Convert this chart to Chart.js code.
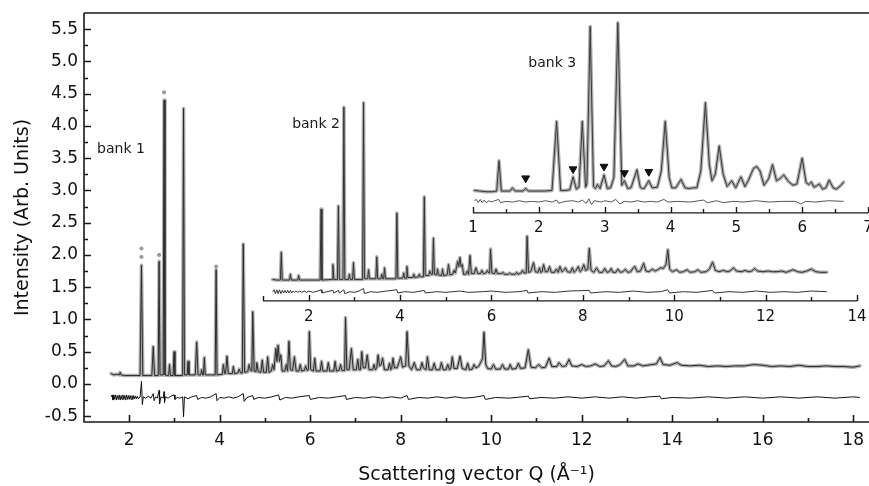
<!DOCTYPE html>
<html>
<head>
<meta charset="utf-8">
<title>Scattering vector Q - banks 1 to 3</title>
<script src="https://cdn.jsdelivr.net/npm/chart.js@4.4.1/dist/chart.umd.min.js"></script>
<style>
    html, body { margin: 0; padding: 0; background: #ffffff; }
    #qChart { display: block; }
</style>
</head>
<body>
<canvas id="qChart" width="869" height="486"></canvas>
<script>
// tick labels
const mainXTicks = [2, 4, 6, 8, 10, 12, 14, 16, 18];
const mainXMinor = [3, 5, 7, 9, 11, 13, 15, 17];
const mainYTicks = [-0.5, 0, 0.5, 1, 1.5, 2, 2.5, 3, 3.5, 4, 4.5, 5, 5.5];
const mainYMinor = [-0.25, 0.25, 0.75, 1.25, 1.75, 2.25, 2.75, 3.25, 3.75, 4.25, 4.75, 5.25];
const bank2Ticks = [2, 4, 6, 8, 10, 12, 14];
const bank2Minor = [1, 3, 5, 7, 9, 11, 13];
const bank3Ticks = [1, 2, 3, 4, 5, 6, 7];
const bank3Minor = [1.5, 2.5, 3.5, 4.5, 5.5, 6.5];

// bank 1: [Q, intensity]
const bank1 = [
    [1.60,0.16],[1.66,0.14],[1.72,0.15],[1.78,0.14],[1.80,0.18],[1.82,0.14],[1.90,0.13],[2.00,0.13],[2.10,0.13],
    [2.24,0.13],[2.27,1.84],[2.30,0.13],[2.40,0.13],[2.50,0.13],[2.53,0.58],[2.56,0.13],[2.64,0.13],[2.66,1.90],
    [2.68,0.14],[2.75,0.14],[2.77,4.40],[2.79,0.14],[2.87,0.13],[2.89,0.30],[2.91,0.13],[2.97,0.13],[2.99,0.50],
    [3.01,0.13],[3.10,0.13],[3.18,0.13],[3.20,4.27],[3.22,0.14],[3.28,0.14],[3.30,0.35],[3.32,0.14],[3.46,0.14],
    [3.49,0.65],[3.52,0.14],[3.58,0.14],[3.60,0.22],[3.62,0.14],[3.64,0.14],[3.66,0.41],[3.68,0.14],[3.80,0.14],
    [3.90,0.14],[3.92,1.77],[3.94,0.14],[4.06,0.15],[4.08,0.30],[4.11,0.16],[4.13,0.16],[4.16,0.43],[4.19,0.16],
    [4.28,0.16],[4.30,0.27],[4.33,0.16],[4.40,0.17],[4.43,0.23],[4.46,0.17],[4.50,0.17],[4.52,2.17],[4.55,0.18],
    [4.62,0.19],[4.65,0.30],[4.68,0.21],[4.71,0.20],[4.73,1.12],[4.76,0.20],[4.80,0.19],[4.82,0.33],[4.85,0.19],
    [4.91,0.18],[4.94,0.37],[4.97,0.18],[5.03,0.18],[5.06,0.42],[5.09,0.18],[5.14,0.20],[5.17,0.30],[5.20,0.22],
    [5.24,0.55],[5.265,0.35],[5.29,0.60],[5.32,0.35],[5.35,0.45],[5.38,0.20],[5.44,0.20],[5.47,0.30],[5.50,0.20],
    [5.53,0.66],[5.56,0.22],[5.61,0.21],[5.65,0.42],[5.69,0.20],[5.75,0.20],[5.78,0.30],[5.81,0.20],[5.87,0.21],
    [5.90,0.28],[5.93,0.21],[5.96,0.22],[5.98,0.81],[6.01,0.22],[6.07,0.20],[6.10,0.40],[6.13,0.20],[6.22,0.20],
    [6.25,0.35],[6.28,0.20],[6.37,0.20],[6.40,0.33],[6.43,0.20],[6.52,0.20],[6.55,0.35],[6.58,0.20],[6.64,0.21],
    [6.67,0.30],[6.70,0.21],[6.76,0.21],[6.78,1.03],[6.81,0.22],[6.86,0.22],[6.91,0.55],[6.95,0.22],[7.02,0.22],
    [7.05,0.38],[7.08,0.22],[7.11,0.22],[7.14,0.50],[7.17,0.25],[7.22,0.25],[7.26,0.45],[7.30,0.22],[7.38,0.22],
    [7.41,0.30],[7.44,0.22],[7.47,0.25],[7.50,0.45],[7.53,0.28],[7.57,0.30],[7.60,0.40],[7.64,0.22],[7.72,0.22],
    [7.75,0.32],[7.78,0.22],[7.80,0.24],[7.83,0.40],[7.86,0.25],[7.92,0.25],[7.97,0.35],[8.00,0.42],[8.04,0.26],
    [8.11,0.28],[8.14,0.81],[8.18,0.28],[8.24,0.22],[8.30,0.33],[8.35,0.22],[8.43,0.22],[8.47,0.33],[8.50,0.25],
    [8.56,0.22],[8.59,0.42],[8.63,0.22],[8.70,0.22],[8.74,0.32],[8.78,0.22],[8.86,0.22],[8.90,0.33],[8.94,0.22],
    [9.00,0.22],[9.04,0.30],[9.08,0.22],[9.11,0.25],[9.14,0.42],[9.18,0.24],[9.25,0.24],[9.31,0.43],[9.36,0.24],
    [9.44,0.22],[9.48,0.32],[9.52,0.22],[9.58,0.23],[9.62,0.30],[9.66,0.25],[9.72,0.27],[9.78,0.35],[9.81,0.40],
    [9.84,0.80],[9.88,0.30],[9.92,0.24],[10.00,0.23],[10.05,0.30],[10.10,0.23],[10.20,0.23],[10.25,0.30],[10.30,0.23],
    [10.38,0.23],[10.42,0.30],[10.46,0.23],[10.55,0.24],[10.60,0.32],[10.65,0.24],[10.75,0.25],[10.82,0.53],[10.88,0.26],
    [10.98,0.25],[11.05,0.30],[11.12,0.25],[11.20,0.26],[11.28,0.40],[11.34,0.27],[11.45,0.27],[11.50,0.33],[11.57,0.27],
    [11.65,0.28],[11.72,0.38],[11.78,0.28],[11.90,0.27],[12.00,0.30],[12.10,0.27],[12.20,0.28],[12.30,0.31],[12.40,0.27],
    [12.50,0.28],[12.59,0.36],[12.66,0.28],[12.75,0.27],[12.85,0.30],[12.95,0.38],[13.02,0.28],[13.15,0.28],[13.25,0.31],
    [13.35,0.28],[13.45,0.29],[13.55,0.30],[13.65,0.31],[13.73,0.41],[13.80,0.30],[13.95,0.29],[14.11,0.33],[14.20,0.29],
    [14.40,0.28],[14.60,0.29],[14.80,0.27],[15.00,0.28],[15.20,0.27],[15.40,0.28],[15.60,0.28],[15.80,0.30],[16.00,0.29],
    [16.20,0.27],[16.40,0.28],[16.60,0.27],[16.80,0.29],[17.00,0.27],[17.20,0.27],[17.40,0.28],[17.60,0.27],[17.80,0.27],
    [18.00,0.26],[18.15,0.28]
];

// observed points left above the strongest bank 1 peaks
const bank1ObsTips = [[2.27,2.10],[2.27,1.97],[2.66,2.00],[2.77,4.52],[3.92,1.82]];

const bank1Diff = [
    [1.60,-0.20],[1.62,-0.17],[1.64,-0.25],[1.66,-0.17],[1.68,-0.24],[1.70,-0.17],[1.72,-0.25],[1.74,-0.18],[1.76,-0.24],
    [1.78,-0.17],[1.80,-0.25],[1.82,-0.18],[1.84,-0.24],[1.86,-0.17],[1.88,-0.24],[1.90,-0.18],[1.92,-0.25],[1.94,-0.17],
    [1.96,-0.24],[1.98,-0.18],[2.00,-0.24],[2.02,-0.18],[2.04,-0.24],[2.06,-0.18],[2.08,-0.24],[2.10,-0.18],[2.12,-0.23],
    [2.14,-0.19],[2.16,-0.23],[2.18,-0.19],[2.20,-0.23],[2.24,-0.20],[2.27,0.04],[2.29,-0.32],[2.31,-0.20],[2.36,-0.22],
    [2.42,-0.19],[2.48,-0.22],[2.53,-0.15],[2.55,-0.26],[2.58,-0.20],[2.62,-0.22],[2.66,-0.10],[2.67,-0.31],[2.70,-0.20],
    [2.75,-0.22],[2.77,-0.12],[2.78,-0.29],[2.80,-0.20],[2.86,-0.22],[2.92,-0.19],[2.99,-0.17],[3.01,-0.24],[3.06,-0.21],
    [3.12,-0.22],[3.18,-0.20],[3.20,-0.51],[3.22,-0.20],[3.30,-0.23],[3.38,-0.20],[3.49,-0.18],[3.51,-0.24],[3.60,-0.21],
    [3.70,-0.22],[3.80,-0.20],[3.92,-0.15],[3.94,-0.26],[4.00,-0.21],[4.10,-0.22],[4.20,-0.20],[4.30,-0.22],[4.40,-0.20],
    [4.52,-0.15],[4.54,-0.27],[4.60,-0.21],[4.73,-0.18],[4.75,-0.24],[4.85,-0.21],[5.00,-0.22],[5.15,-0.20],[5.30,-0.17],
    [5.33,-0.25],[5.45,-0.21],[5.60,-0.22],[5.75,-0.20],[5.98,-0.18],[6.00,-0.24],[6.20,-0.21],[6.40,-0.22],[6.60,-0.20],
    [6.78,-0.18],[6.80,-0.24],[7.00,-0.21],[7.20,-0.22],[7.40,-0.20],[7.60,-0.22],[7.80,-0.20],[8.00,-0.22],[8.14,-0.18],
    [8.17,-0.24],[8.40,-0.21],[8.60,-0.22],[8.80,-0.20],[9.00,-0.22],[9.20,-0.20],[9.40,-0.22],[9.60,-0.21],[9.84,-0.18],
    [9.87,-0.24],[10.10,-0.21],[10.40,-0.22],[10.82,-0.19],[10.85,-0.23],[11.10,-0.21],[11.40,-0.22],[11.70,-0.20],
    [12.00,-0.22],[12.30,-0.20],[12.60,-0.22],[12.90,-0.20],[13.20,-0.22],[13.50,-0.20],[13.73,-0.19],[13.76,-0.23],
    [14.00,-0.21],[14.40,-0.22],[14.80,-0.20],[15.20,-0.22],[15.60,-0.20],[16.00,-0.22],[16.40,-0.20],[16.80,-0.22],
    [17.20,-0.20],[17.60,-0.22],[18.00,-0.20],[18.15,-0.21]
];

// bank 2 (own Q axis, offset on the intensity scale)
const bank2 = [
    [1.21,1.62],[1.30,1.61],[1.38,1.61],[1.40,2.04],[1.42,1.61],[1.58,1.61],[1.60,1.70],[1.62,1.61],[1.76,1.61],
    [1.78,1.68],[1.80,1.61],[2.00,1.61],[2.25,1.61],[2.27,2.71],[2.29,1.61],[2.51,1.62],[2.53,1.85],[2.55,1.62],
    [2.63,1.62],[2.65,2.76],[2.67,1.62],[2.75,1.62],[2.77,4.29],[2.79,1.62],[2.87,1.62],[2.89,1.70],[2.91,1.62],
    [2.96,1.62],[2.98,1.88],[3.00,1.62],[3.18,1.62],[3.20,4.36],[3.22,1.63],[3.29,1.63],[3.31,1.77],[3.33,1.63],
    [3.47,1.63],[3.49,1.97],[3.51,1.63],[3.58,1.63],[3.60,1.70],[3.62,1.63],[3.64,1.63],[3.66,1.80],[3.68,1.63],
    [3.91,1.63],[3.93,2.65],[3.95,1.64],[4.06,1.64],[4.08,1.72],[4.10,1.64],[4.13,1.64],[4.15,1.82],[4.17,1.65],
    [4.28,1.65],[4.30,1.70],[4.32,1.65],[4.40,1.66],[4.42,1.70],[4.44,1.66],[4.51,1.66],[4.53,2.90],[4.55,1.68],
    [4.63,1.68],[4.65,1.75],[4.68,1.70],[4.71,1.70],[4.73,2.26],[4.75,1.70],[4.80,1.69],[4.82,1.78],[4.84,1.69],
    [4.91,1.68],[4.93,1.78],[4.95,1.68],[5.03,1.69],[5.06,1.85],[5.09,1.69],[5.15,1.70],[5.18,1.76],[5.21,1.72],
    [5.26,1.90],[5.285,1.82],[5.31,1.96],[5.335,1.82],[5.36,1.85],[5.39,1.70],[5.44,1.70],[5.47,1.75],[5.50,1.70],
    [5.53,1.99],[5.56,1.71],[5.62,1.71],[5.66,1.80],[5.70,1.71],[5.76,1.71],[5.79,1.76],[5.82,1.71],[5.88,1.72],
    [5.91,1.76],[5.94,1.72],[5.96,1.72],[5.98,2.09],[6.01,1.72],[6.07,1.71],[6.10,1.78],[6.13,1.71],[6.22,1.71],
    [6.25,1.73],[6.28,1.70],[6.37,1.70],[6.40,1.72],[6.43,1.70],[6.52,1.70],[6.55,1.73],[6.58,1.70],[6.65,1.72],
    [6.68,1.76],[6.71,1.72],[6.76,1.72],[6.78,2.29],[6.81,1.73],[6.86,1.74],[6.92,1.88],[6.96,1.74],[7.02,1.73],
    [7.05,1.80],[7.08,1.73],[7.11,1.74],[7.14,1.85],[7.18,1.74],[7.23,1.74],[7.27,1.82],[7.31,1.73],[7.38,1.73],
    [7.42,1.78],[7.46,1.73],[7.50,1.82],[7.54,1.74],[7.58,1.76],[7.62,1.80],[7.66,1.74],[7.73,1.73],[7.77,1.80],
    [7.81,1.73],[7.85,1.76],[7.90,1.82],[7.94,1.74],[7.98,1.77],[8.02,1.85],[8.06,1.76],[8.11,1.78],[8.14,2.10],
    [8.18,1.76],[8.24,1.73],[8.30,1.80],[8.36,1.73],[8.43,1.73],[8.48,1.79],[8.53,1.73],[8.58,1.74],[8.62,1.79],
    [8.66,1.73],[8.72,1.73],[8.77,1.78],[8.82,1.73],[8.88,1.74],[8.93,1.78],[8.98,1.73],[9.05,1.74],[9.10,1.80],
    [9.14,1.82],[9.19,1.74],[9.26,1.75],[9.33,1.87],[9.38,1.75],[9.45,1.74],[9.52,1.78],[9.58,1.75],[9.64,1.77],
    [9.70,1.80],[9.76,1.79],[9.82,1.85],[9.86,2.08],[9.90,1.78],[9.96,1.74],[10.05,1.77],[10.12,1.73],[10.20,1.74],
    [10.28,1.77],[10.35,1.73],[10.45,1.74],[10.52,1.77],[10.58,1.73],[10.70,1.74],[10.77,1.78],[10.84,1.89],[10.90,1.76],
    [10.98,1.74],[11.08,1.76],[11.15,1.74],[11.22,1.75],[11.30,1.80],[11.36,1.75],[11.48,1.74],[11.55,1.76],[11.62,1.74],
    [11.70,1.75],[11.76,1.79],[11.82,1.75],[11.95,1.74],[12.05,1.75],[12.15,1.74],[12.25,1.74],[12.35,1.75],[12.45,1.73],
    [12.60,1.77],[12.70,1.74],[12.80,1.73],[12.90,1.75],[13.00,1.78],[13.10,1.74],[13.20,1.73],[13.34,1.73]
];

const bank2Diff = [
    [1.21,1.43],[1.24,1.46],[1.27,1.40],[1.30,1.46],[1.33,1.40],[1.36,1.46],[1.39,1.40],[1.42,1.45],[1.45,1.41],
    [1.48,1.45],[1.51,1.41],[1.54,1.45],[1.57,1.41],[1.60,1.45],[1.63,1.41],[1.66,1.44],[1.69,1.42],[1.72,1.44],
    [1.76,1.42],[1.80,1.44],[1.85,1.42],[1.90,1.44],[1.95,1.42],[2.00,1.44],[2.10,1.42],[2.20,1.44],[2.27,1.46],
    [2.29,1.41],[2.40,1.43],[2.53,1.45],[2.55,1.41],[2.65,1.45],[2.67,1.41],[2.77,1.46],[2.79,1.40],[2.90,1.43],
    [3.00,1.42],[3.10,1.44],[3.20,1.48],[3.22,1.40],[3.35,1.43],[3.50,1.42],[3.70,1.44],[3.93,1.46],[3.95,1.41],
    [4.10,1.43],[4.30,1.42],[4.53,1.45],[4.55,1.41],[4.80,1.43],[5.00,1.42],[5.30,1.44],[5.50,1.42],[5.80,1.43],
    [6.00,1.44],[6.30,1.42],[6.60,1.43],[6.78,1.45],[6.80,1.41],[7.10,1.43],[7.40,1.42],[7.70,1.44],[8.14,1.45],
    [8.17,1.41],[8.50,1.43],[8.80,1.42],[9.10,1.44],[9.40,1.42],[9.70,1.43],[9.86,1.46],[9.90,1.41],[10.20,1.43],
    [10.50,1.42],[10.84,1.45],[10.88,1.41],[11.20,1.43],[11.50,1.42],[11.80,1.44],[12.10,1.42],[12.40,1.43],
    [12.70,1.42],[13.00,1.44],[13.34,1.43]
];

// bank 3 (own Q axis, offset on the intensity scale)
const bank3 = [
    [1.02,3.00],[1.10,2.99],[1.20,2.98],[1.30,2.98],[1.36,2.99],[1.395,3.46],[1.43,2.99],[1.50,2.99],[1.56,2.99],
    [1.60,3.04],[1.64,2.99],[1.76,2.99],[1.80,3.03],[1.84,2.99],[2.00,2.99],[2.10,2.99],[2.20,3.00],[2.27,4.07],
    [2.33,3.00],[2.40,3.00],[2.47,3.01],[2.52,3.21],[2.57,3.02],[2.61,3.05],[2.66,4.07],[2.71,3.05],[2.73,3.10],
    [2.78,5.54],[2.83,3.06],[2.86,3.03],[2.89,3.09],[2.93,3.03],[2.99,3.24],[3.04,3.03],[3.09,3.04],[3.14,3.20],
    [3.20,5.60],[3.26,3.08],[3.30,3.15],[3.35,3.03],[3.40,3.04],[3.49,3.32],[3.54,3.05],[3.57,3.03],[3.60,3.03],
    [3.67,3.15],[3.72,3.04],[3.80,3.05],[3.86,3.30],[3.92,4.07],[3.98,3.20],[4.02,3.04],[4.08,3.04],[4.16,3.17],
    [4.22,3.04],[4.28,3.03],[4.35,3.04],[4.40,3.04],[4.46,3.30],[4.53,4.36],[4.59,3.40],[4.63,3.15],[4.68,3.25],
    [4.74,3.69],[4.80,3.25],[4.86,3.06],[4.93,3.15],[4.99,3.04],[5.07,3.21],[5.13,3.06],[5.18,3.15],[5.26,3.34],
    [5.31,3.37],[5.36,3.30],[5.42,3.08],[5.49,3.18],[5.55,3.40],[5.61,3.15],[5.66,3.18],[5.72,3.24],[5.79,3.14],
    [5.86,3.08],[5.92,3.10],[6.00,3.50],[6.06,3.12],[6.10,3.09],[6.14,3.13],[6.18,3.05],[6.22,3.07],[6.26,3.10],
    [6.31,3.02],[6.36,3.04],[6.41,3.16],[6.47,3.04],[6.52,3.02],[6.58,3.07],[6.63,3.13]
];

const bank3Diff = [
    [1.02,2.84],[1.05,2.86],[1.08,2.81],[1.11,2.86],[1.14,2.81],[1.17,2.85],[1.20,2.81],[1.24,2.84],[1.28,2.82],
    [1.33,2.84],[1.39,2.86],[1.42,2.81],[1.50,2.83],[1.60,2.82],[1.70,2.84],[1.80,2.82],[1.90,2.83],[2.00,2.82],
    [2.10,2.84],[2.20,2.82],[2.27,2.85],[2.30,2.80],[2.40,2.83],[2.52,2.84],[2.60,2.82],[2.66,2.85],[2.72,2.80],
    [2.76,2.87],[2.80,2.78],[2.84,2.84],[2.95,2.82],[3.00,2.84],[3.10,2.82],[3.17,2.86],[3.23,2.79],[3.30,2.83],
    [3.40,2.82],[3.50,2.84],[3.60,2.82],[3.70,2.83],[3.80,2.82],[3.90,2.86],[3.96,2.82],[4.10,2.83],[4.30,2.82],
    [4.50,2.85],[4.56,2.81],[4.70,2.84],[4.80,2.81],[4.95,2.83],[5.10,2.82],[5.30,2.84],[5.50,2.82],[5.70,2.83],
    [5.90,2.83],[5.98,2.79],[6.05,2.83],[6.20,2.82],[6.40,2.84],[6.63,2.83]
];

// impurity reflections marked in bank 3
const bank3MarkQ = [1.80, 2.52, 2.99, 3.30, 3.67];
const bank3MarkI = [3.19, 3.33, 3.37, 3.27, 3.29];

const FONT = '"DejaVu Sans", "Liberation Sans", Arial, sans-serif';

document.addEventListener('DOMContentLoaded', function() {
    initChart();
});

function obsSet(data, axis) {
    return {
        data: data, xAxisID: axis, order: 3,
        borderColor: 'rgba(160,160,160,0.85)', borderWidth: 3.5,
        borderJoinStyle: 'round', borderCapStyle: 'round', pointRadius: 0
    };
}

function lineSet(data, axis, color) {
    return {
        data: data, xAxisID: axis, order: 2,
        borderColor: color, borderWidth: 1, pointRadius: 0
    };
}

function drawXTicks(ctx, scale, values, y, len) {
    values.forEach(v => {
        const x = Math.round(scale.getPixelForValue(v)) + 0.5;
        ctx.moveTo(x, y);
        ctx.lineTo(x, y - len);
    });
}

function drawInsetAxis(ctx, scale, y, from, to, majors, minors, gap) {
    const x0 = scale.getPixelForValue(from);
    const x1 = scale.getPixelForValue(to);
    ctx.beginPath();
    ctx.moveTo(x0, y);
    ctx.lineTo(x1, y);
    drawXTicks(ctx, scale, majors, y, 6);
    drawXTicks(ctx, scale, minors, y, 4);
    drawXTicks(ctx, scale, [from], y, 5);
    ctx.stroke();
    ctx.font = '15px ' + FONT;
    ctx.textAlign = 'center';
    ctx.textBaseline = 'middle';
    majors.forEach(v => {
        ctx.fillText(String(v), scale.getPixelForValue(v), y + gap);
    });
}

const axesPlugin = {
    id: 'axesPlugin',
    afterDraw(chart, args, opts) {
        const { ctx, chartArea, scales } = chart;
        const { left, right, top, bottom } = chartArea;
        ctx.save();
        ctx.strokeStyle = '#1a1a1a';
        ctx.fillStyle = '#111';
        ctx.lineWidth = 1.6;

        // frame: top, left and bottom lines
        ctx.beginPath();
        ctx.moveTo(left, top);
        ctx.lineTo(right, top);
        ctx.moveTo(left, top);
        ctx.lineTo(left, bottom);
        ctx.lineTo(right, bottom);
        drawXTicks(ctx, scales.x, mainXTicks, bottom, 7);
        drawXTicks(ctx, scales.x, mainXMinor, bottom, 4);
        mainYTicks.forEach(v => {
            const y = Math.round(scales.y.getPixelForValue(v)) + 0.5;
            ctx.moveTo(left, y);
            ctx.lineTo(left + 7, y);
        });
        mainYMinor.forEach(v => {
            const y = Math.round(scales.y.getPixelForValue(v)) + 0.5;
            ctx.moveTo(left, y);
            ctx.lineTo(left + 4, y);
        });
        ctx.stroke();

        // inset axes for bank 2 and bank 3
        ctx.lineWidth = 1.4;
        drawInsetAxis(ctx, scales.x2, scales.y.getPixelForValue(opts.bank2Level), 1, 14, bank2Ticks, bank2Minor, 16);
        drawInsetAxis(ctx, scales.x3, scales.y.getPixelForValue(opts.bank3Level), 1, 7, bank3Ticks, bank3Minor, 15);

        // bank captions
        ctx.font = '14px ' + FONT;
        ctx.textAlign = 'left';
        ctx.textBaseline = 'middle';
        ctx.fillStyle = '#1a1a1a';
        opts.captions.forEach(c => {
            ctx.fillText(c.text, scales.x.getPixelForValue(c.q), scales.y.getPixelForValue(c.level));
        });
        ctx.restore();
    }
};

function initChart() {
    const canvas = document.getElementById('qChart');
    if (!canvas) return;

    const tickFont = { family: FONT, size: 17 };
    const titleFont = { family: FONT, size: 19 };

    new Chart(canvas, {
        type: 'line',
        data: {
            datasets: [
                obsSet(bank1, 'x'),
                lineSet(bank1, 'x', '#2b2b2b'),
                lineSet(bank1Diff, 'x', '#111111'),
                {
                    data: bank1ObsTips, xAxisID: 'x', order: 1, showLine: false,
                    pointRadius: 1.6, pointBackgroundColor: '#9a9a9a', pointBorderColor: '#9a9a9a'
                },
                obsSet(bank2, 'x2'),
                lineSet(bank2, 'x2', '#333333'),
                lineSet(bank2Diff, 'x2', '#333333'),
                obsSet(bank3, 'x3'),
                lineSet(bank3, 'x3', '#3a3a3a'),
                lineSet(bank3Diff, 'x3', '#555555'),
                {
                    data: bank3MarkQ.map((q, i) => ({ x: q, y: bank3MarkI[i] })),
                    xAxisID: 'x3', order: 1, showLine: false,
                    pointStyle: 'triangle', rotation: 180, pointRadius: 4.5,
                    pointBackgroundColor: '#111', pointBorderColor: '#111', pointBorderWidth: 1
                }
            ]
        },
        options: {
            responsive: false,
            animation: false,
            devicePixelRatio: 1,
            layout: { autoPadding: false, padding: { top: 13, left: 0, right: 0, bottom: 0 } },
            elements: { line: { tension: 0 }, point: { radius: 0 } },
            plugins: {
                legend: { display: false },
                tooltip: { enabled: false },
                axesPlugin: {
                    bank2Level: 1.287,
                    bank3Level: 2.651,
                    captions: [
                        { text: 'bank 1', q: 1.29, level: 3.63 },
                        { text: 'bank 2', q: 5.60, level: 4.02 },
                        { text: 'bank 3', q: 10.82, level: 4.97 }
                    ]
                }
            },
            scales: {
                x: {
                    type: 'linear', position: 'bottom', min: 1, max: 18.35,
                    grid: { display: false, drawTicks: false },
                    border: { display: false },
                    ticks: { autoSkip: false, maxRotation: 0, padding: 8, color: '#111', font: tickFont,
                             callback: v => String(v) },
                    afterBuildTicks: s => { s.ticks = mainXTicks.map(v => ({ value: v })); },
                    afterFit: s => { s.height = 64; s.paddingLeft = 0; s.paddingRight = 0; },
                    title: { display: true, text: 'Scattering vector Q (Å⁻¹)', color: '#111',
                             font: titleFont, padding: { top: 0, bottom: 0 } }
                },
                x2: { type: 'linear', display: false, min: -2.918, max: 14.263 },
                x3: { type: 'linear', display: false, min: -4.909, max: 7.015 },
                y: {
                    type: 'linear', position: 'left', min: -0.59, max: 5.75,
                    grid: { display: false, drawTicks: false },
                    border: { display: false },
                    ticks: { autoSkip: false, padding: 6, color: '#111', font: tickFont,
                             callback: v => Number(v).toFixed(1) },
                    afterBuildTicks: s => { s.ticks = mainYTicks.map(v => ({ value: v })); },
                    afterFit: s => { s.width = 84; s.paddingTop = 0; s.paddingBottom = 0; },
                    title: { display: true, text: 'Intensity (Arb. Units)', color: '#111',
                             font: titleFont, padding: { top: 12, bottom: 0 } }
                }
            }
        },
        plugins: [axesPlugin]
    });
}
</script>
</body>
</html>
